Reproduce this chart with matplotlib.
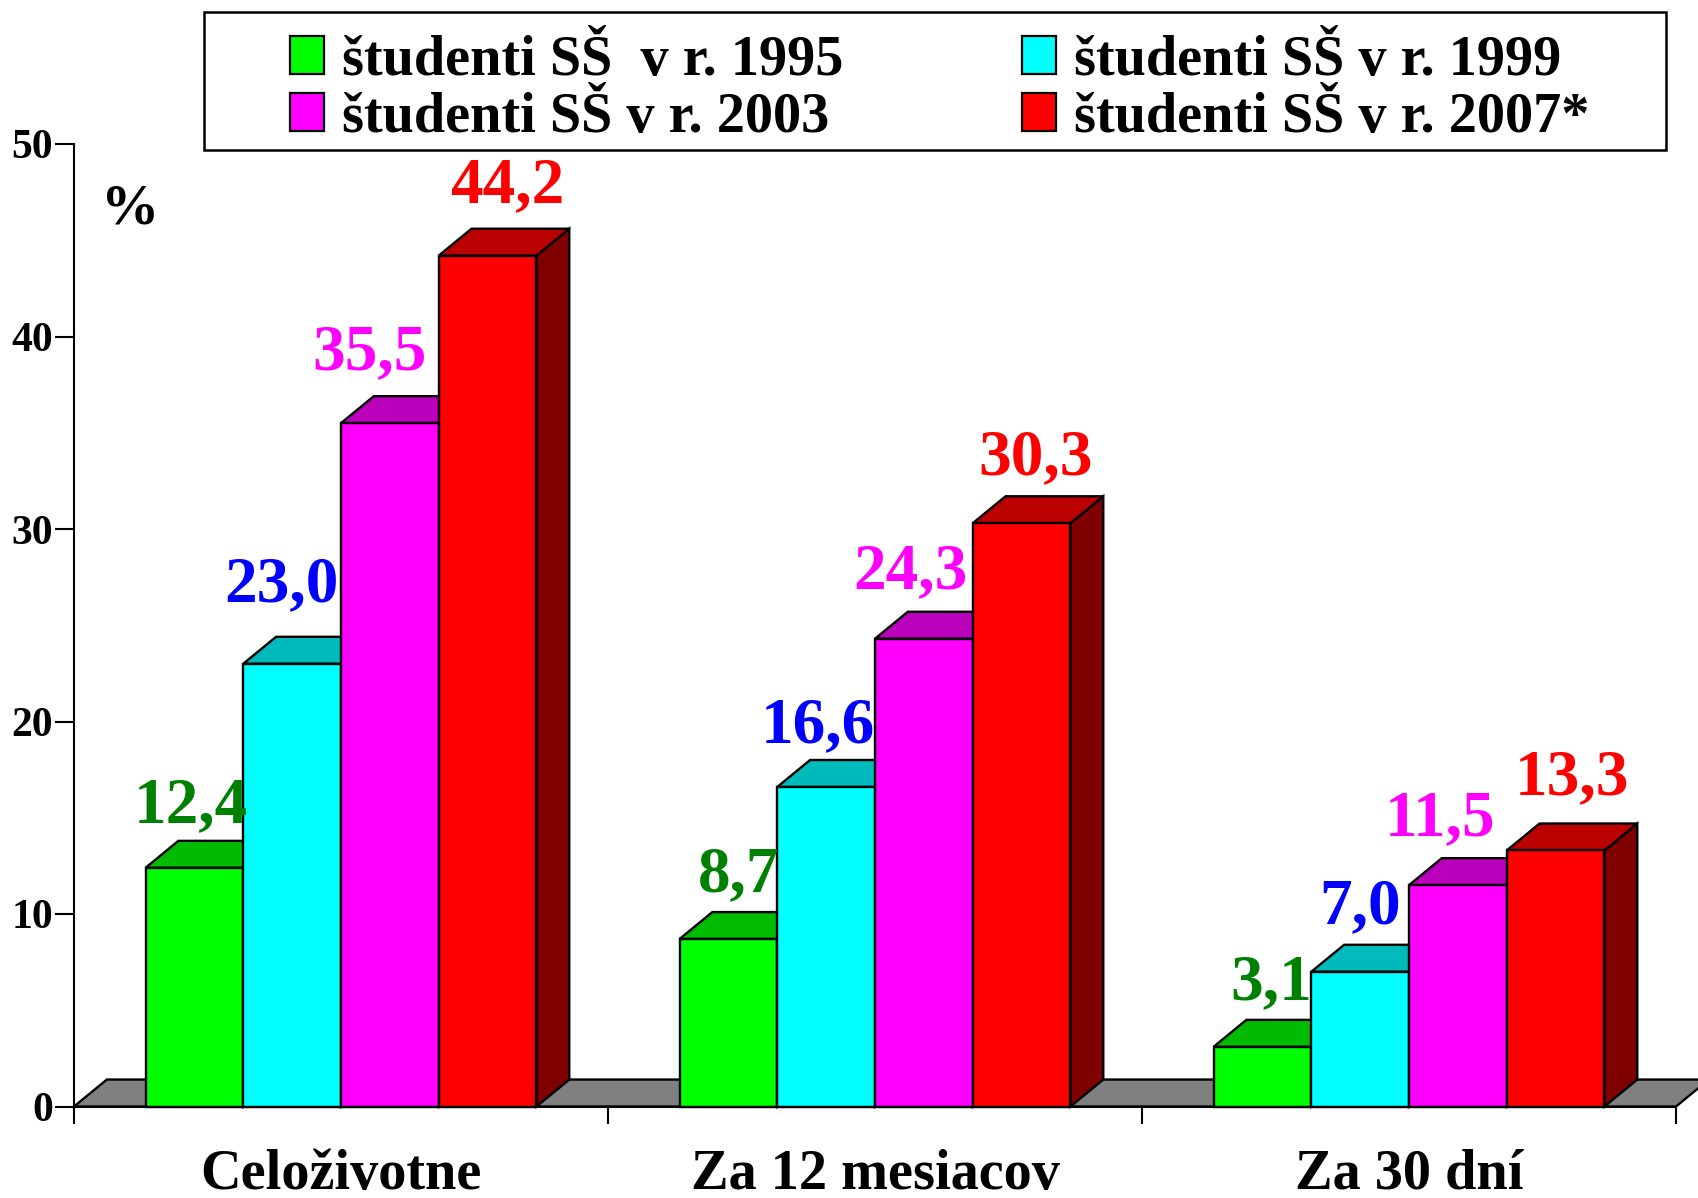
import matplotlib
matplotlib.use("Agg")
import matplotlib.pyplot as plt
from matplotlib.patches import Polygon, Rectangle

plt.rcParams['font.family'] = ['Liberation Serif']
plt.rcParams['font.weight'] = 'bold'

categories = ["Celoživotne", "Za 12 mesiacov", "Za 30 dní"]
series_names = ["študenti SŠ  v r. 1995", "študenti SŠ v r. 1999", "študenti SŠ v r. 2003", "študenti SŠ v r. 2007*"]
v1995 = [12.4, 8.7, 3.1]
v1999 = [23.0, 16.6, 7.0]
v2003 = [35.5, 24.3, 11.5]
v2007 = [44.2, 30.3, 13.3]
labels1995 = ["12,4", "8,7", "3,1"]
labels1999 = ["23,0", "16,6", "7,0"]
labels2003 = ["35,5", "24,3", "11,5"]
labels2007 = ["44,2", "30,3", "13,3"]
yticks = [0, 10, 20, 30, 40, 50]

W, H = 1699, 1198
fig = plt.figure(figsize=(W/100, H/100), dpi=100, facecolor='white')
L, R, T, B = 74, 1676, 144, 1106.5
ax = fig.add_axes([L/W, 1-B/H, (R-L)/W, (B-T)/H])
ax.set_xlim(0, 3)
ax.set_ylim(0, 50)
ax.patch.set_visible(False)

DX = 0.0615
DY = 1.40
BW = 0.183
START = 0.134
EDGE = 1.7

ax.add_patch(Polygon([(0, 0), (DX, DY), (3+DX, DY), (3, 0)], closed=True, fc='#808080', ec='black', lw=EDGE, clip_on=False, zorder=1))

styles = [
    (v1995, labels1995, '#00FF00', '#00BB00', '#008000', '#008000'),
    (v1999, labels1999, '#00FFFF', '#00BBBB', '#008080', '#0000FF'),
    (v2003, labels2003, '#FF00FF', '#BB00BB', '#800080', '#FF00FF'),
    (v2007, labels2007, '#FF0000', '#BB0000', '#800000', '#FF0000'),
]
# hand placement of the value labels, pixels from the bar's centre and top
label_dx = [[-4, 10, 9], [-11, -8, 0], [-20, -13, -18], [20, 14, 16]]
label_dy = [[0, 2, 2], [17, -1, 3], [8, 5, 4], [8, 3, 10]]

for g in range(3):
    for s, (vals, labs, front, top, side, tcol) in enumerate(styles):
        x0 = g + START + s*BW
        x1 = x0 + BW
        v = vals[g]
        z = 3 + s
        ax.add_patch(Polygon([(x1, 0), (x1+DX, DY), (x1+DX, v+DY), (x1, v)], closed=True, fc=side, ec='black', lw=EDGE, clip_on=False, zorder=z))
        ax.add_patch(Polygon([(x0, v), (x0+DX, v+DY), (x1+DX, v+DY), (x1, v)], closed=True, fc=top, ec='black', lw=EDGE, clip_on=False, zorder=z))
        ax.add_patch(Rectangle((x0, 0), BW, v, fc=front, ec='black', lw=EDGE, clip_on=False, zorder=z+0.5))
        ax.annotate(labs[g], (x0 + BW/2, v + DY),
                    xytext=(label_dx[s][g], 5 + label_dy[s][g]), textcoords='offset pixels',
                    ha='center', va='bottom', fontsize=47, color=tcol, zorder=20, annotation_clip=False)

for side in ['top', 'right']:
    ax.spines[side].set_visible(False)
for side in ['left', 'bottom']:
    ax.spines[side].set_linewidth(1.5)
    ax.spines[side].set_zorder(10)

ax.set_yticks(yticks)
ax.set_yticklabels([str(t) for t in yticks], fontsize=30)
ax.tick_params(axis='y', direction='out', length=14, width=1.5, pad=1)
ax.set_xticks([0, 1, 2, 3])
ax.set_xticklabels([])
ax.tick_params(axis='x', direction='out', length=12, width=1.5)
for i, c in enumerate(categories):
    ax.annotate(c, (i + 0.5, 0), xytext=(0, -82), textcoords='offset pixels', ha='center', va='baseline', fontsize=40.5, annotation_clip=False)

ax.text(0.051, 46.6, "%", fontsize=42, ha='left', va='center')

# legend box
lax = fig.add_axes([0, 0, 1, 1])
lax.set_xlim(0, W)
lax.set_ylim(H, 0)
lax.axis('off')
lax.patch.set_visible(False)
lax.add_patch(Rectangle((204, 12), 1462, 138, fc='white', ec='black', lw=1.8))
spots = [(290, 57), (1022, 57), (290, 114), (1022, 114)]
for (x, y), name, st in zip(spots, series_names, styles):
    lax.add_patch(Rectangle((x, y-21), 34, 38, fc=st[2], ec='black', lw=1.6))
    lax.text(x+52, y+4, name, fontsize=40.5, ha='left', va='center')

fig.savefig("out.png", dpi=100)
